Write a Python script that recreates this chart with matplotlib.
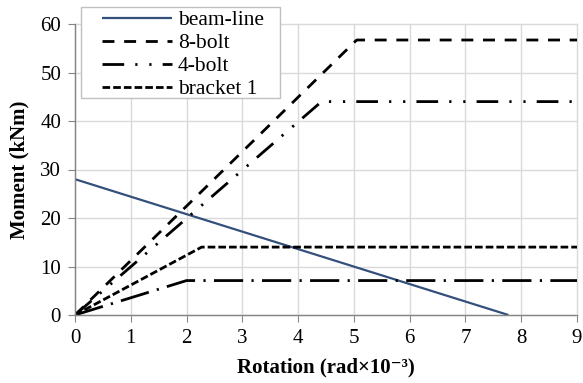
import matplotlib
matplotlib.use("Agg")
import matplotlib.pyplot as plt
from matplotlib.patches import Rectangle

# data
beam_x = [0, 7.77]
beam_y = [28, 0]
bolt8_x = [0, 5.05, 9]
bolt8_y = [0, 56.7, 56.7]
bolt4_x = [0, 4.42, 9]
bolt4_y = [0, 44.0, 44.0]
bracket1_x = [0, 2.27, 9]
bracket1_y = [0, 14.0, 14.0]
bracket2_x = [0, 2.0, 9]
bracket2_y = [0, 7.1, 7.1]

plt.rcParams['font.family'] = ['Liberation Serif', 'DejaVu Serif']
plt.rcParams['lines.scale_dashes'] = False

W, H = 583, 383
fig = plt.figure(figsize=(5.83, 3.83), dpi=100)
ax = fig.add_axes([75 / W, 1 - 315 / H, 502 / W, 291 / H])

ax.plot(beam_x, beam_y, color='#34507A', lw=1.6, label='beam-line', solid_capstyle='butt')
ax.plot(bolt8_x, bolt8_y, color='black', lw=2.0, linestyle=(0, (8.6, 7)),
        dash_capstyle='butt', label='8-bolt')
ax.plot(bolt4_x, bolt4_y, color='black', lw=2.0,
        linestyle=(0, (15.6, 8, 1.6, 8.5, 1.6, 8)), dash_capstyle='butt', label='4-bolt')
ax.plot(bracket1_x, bracket1_y, color='black', lw=2.0, linestyle=(0, (5.5, 2.2)),
        dash_capstyle='butt', label='bracket 1')
ax.plot(bracket2_x, bracket2_y, color='black', lw=2.0,
        linestyle=(0, (21, 6, 1.6, 6)), dash_capstyle='butt')

ax.set_xlim(0, 9)
ax.set_ylim(0, 60)
ax.set_xticks(range(0, 10))
ax.set_yticks(range(0, 70, 10))
ax.grid(True, color='#d9d9d9', lw=1.0)
ax.set_axisbelow(True)
for s in ['top', 'right']:
    ax.spines[s].set_visible(False)
for s in ['left', 'bottom']:
    ax.spines[s].set_color('#868686')
    ax.spines[s].set_linewidth(1.0)
ax.tick_params(direction='out', length=5, color='#868686', labelsize=15, pad=5)
for gl in ax.get_xgridlines() + ax.get_ygridlines():
    gl.set_clip_on(False)

ax.set_xlabel('Rotation (rad×10⁻³)', fontsize=15, fontweight='bold', labelpad=7)
ax.set_ylabel('Moment (kNm)', fontsize=15, fontweight='bold', labelpad=8)

# legend frame drawn separately (box wider on the left than matplotlib's pad)
box = Rectangle((81 / W, 1 - 98 / H), 199 / W, 91 / H, transform=fig.transFigure,
                facecolor='white', edgecolor='#c0c0c0', lw=1.0, zorder=3)
fig.patches.append(box)

leg = fig.legend(loc='upper left', bbox_to_anchor=(102 / W, 1 - 10 / H),
                 fontsize=15.5, handlelength=3.25, handletextpad=0.28,
                 labelspacing=0.14, borderpad=0, frameon=False, borderaxespad=0)
leg.set_zorder(5)

plt.savefig('out.png', dpi=100)
